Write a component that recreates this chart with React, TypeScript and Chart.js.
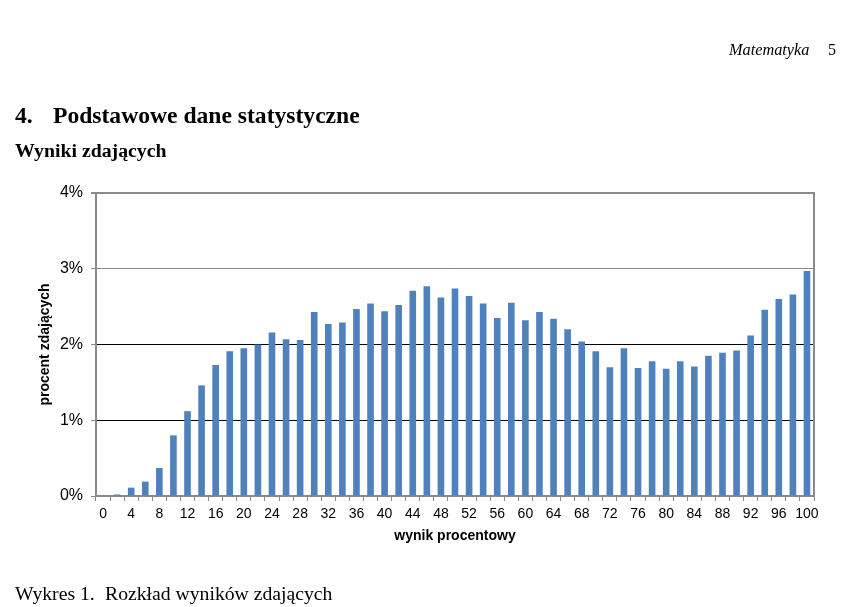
import React, { useEffect, useRef } from "react";
import { Chart, registerables } from "chart.js";

Chart.register(...registerables);

const categories: string[] = [
  "0", "2", "4", "6", "8", "10", "12", "14", "16", "18", "20", "22", "24", "26", "28", "30", "32",
  "34", "36", "38", "40", "42", "44", "46", "48", "50", "52", "54", "56", "58", "60", "62", "64",
  "66", "68", "70", "72", "74", "76", "78", "80", "82", "84", "86", "88", "90", "92", "94", "96",
  "98", "100",
];

const percentValues: number[] = [
  0.0, 0.02, 0.11, 0.19, 0.37, 0.8, 1.12, 1.46, 1.73, 1.91, 1.95, 2.0, 2.16, 2.07, 2.06, 2.43, 2.27,
  2.29, 2.47, 2.54, 2.44, 2.52, 2.71, 2.77, 2.62, 2.74, 2.64, 2.54, 2.35, 2.55, 2.32, 2.43, 2.34,
  2.2, 2.04, 1.91, 1.7, 1.95, 1.69, 1.78, 1.68, 1.78, 1.71, 1.85, 1.89, 1.92, 2.12, 2.46, 2.6,
  2.66, 2.97,
];

const yTickValues: number[] = [0, 1, 2, 3, 4];

const GREY = "#8a8a8a";
const BAR = "#4F81BD";
const SANS = "'Liberation Sans', Arial, sans-serif";
const SERIF = "'Liberation Serif', 'Times New Roman', serif";

export default function App() {
  const ref = useRef<HTMLCanvasElement | null>(null);

  useEffect(() => {
    if (!ref.current) return;
    const chart = new Chart(ref.current, {
      type: "bar",
      data: {
        labels: categories,
        datasets: [
          {
            data: percentValues,
            backgroundColor: BAR,
            borderWidth: 0,
            categoryPercentage: 1,
            barPercentage: 0.47,
          },
        ],
      },
      options: {
        responsive: false,
        animation: false,
        layout: { padding: { left: 0, top: 193, right: 38, bottom: 59 } },
        plugins: { legend: { display: false }, tooltip: { enabled: false } },
        scales: {
          x: {
            afterFit: (s: any) => {
              s.height = 52;
            },
            grid: {
              drawOnChartArea: false,
              drawTicks: true,
              tickLength: 5,
              tickColor: GREY,
              offset: true,
            },
            border: { color: GREY, width: 2 },
            ticks: {
              autoSkip: false,
              maxRotation: 0,
              padding: 5,
              color: "#000",
              font: { family: SANS, size: 14 },
              callback: (_v: any, i: number) => (i % 2 === 0 ? categories[i] : ""),
            },
            title: {
              display: true,
              text: "wynik procentowy",
              color: "#000",
              font: { family: SANS, size: 14, weight: "bold" },
              padding: { top: 0, bottom: 3 },
            },
          },
          y: {
            min: 0,
            max: 4,
            afterFit: (s: any) => {
              s.width = 96;
            },
            afterBuildTicks: (s: any) => {
              s.ticks = yTickValues.map((v) => ({ value: v }));
            },
            grid: {
              color: (c: any) => (c.tick && c.tick.value >= 3 ? GREY : c.tick && c.tick.value === 0 ? GREY : "#000"),
              lineWidth: (c: any) => (c.tick && c.tick.value === 4 ? 2 : 1),
              tickColor: GREY,
              tickLength: 5,
            },
            border: { color: GREY, width: 2 },
            ticks: {
              padding: 8,
              color: "#000",
              font: { family: SANS, size: 16 },
              callback: (v: any) => v + "%",
            },
            title: {
              display: true,
              text: "procent zdających",
              color: "#000",
              font: { family: SANS, size: 14, weight: "bold" },
              padding: { top: 37, bottom: 0 },
            },
          },
          y1: {
            position: "right",
            min: 0,
            max: 4,
            afterFit: (s: any) => {
              s.width = 0;
            },
            grid: { drawOnChartArea: false, drawTicks: false },
            border: { color: GREY, width: 2 },
            ticks: { display: false },
          },
        },
      },
    } as any);
    return () => chart.destroy();
  }, []);

  const abs = (o: React.CSSProperties): React.CSSProperties => ({
    position: "absolute",
    whiteSpace: "nowrap",
    margin: 0,
    ...o,
  });

  return (
    <div
      style={{
        position: "fixed",
        left: 0,
        top: 0,
        width: 852,
        height: 607,
        background: "#fff",
        overflow: "hidden",
      }}
    >
      <canvas ref={ref} width={852} height={607} style={{ position: "absolute", left: 0, top: 0, display: "block" }} />
      <div style={abs({ left: 729, top: 41.6, fontFamily: SERIF, fontStyle: "italic", fontSize: 16.3, lineHeight: "16px" })}>
        Matematyka
      </div>
      <div style={abs({ left: 828, top: 41.6, fontFamily: SERIF, fontSize: 16, lineHeight: "16px" })}>5</div>
      <div style={abs({ left: 15, top: 104.3, fontFamily: SERIF, fontWeight: "bold", fontSize: 23.6, lineHeight: "23.6px" })}>
        4.
      </div>
      <div style={abs({ left: 53, top: 104.3, fontFamily: SERIF, fontWeight: "bold", fontSize: 23.6, lineHeight: "23.6px" })}>
        Podstawowe dane statystyczne
      </div>
      <div style={abs({ left: 15, top: 141.3, fontFamily: SERIF, fontWeight: "bold", fontSize: 19.8, lineHeight: "19.8px" })}>
        Wyniki zdających
      </div>
      <div style={abs({ left: 15, top: 583.7, fontFamily: SERIF, fontSize: 19.7, lineHeight: "19.7px" })}>Wykres 1.</div>
      <div style={abs({ left: 105, top: 583.7, fontFamily: SERIF, fontSize: 19.7, lineHeight: "19.7px" })}>
        Rozkład wyników zdających
      </div>
    </div>
  );
}
